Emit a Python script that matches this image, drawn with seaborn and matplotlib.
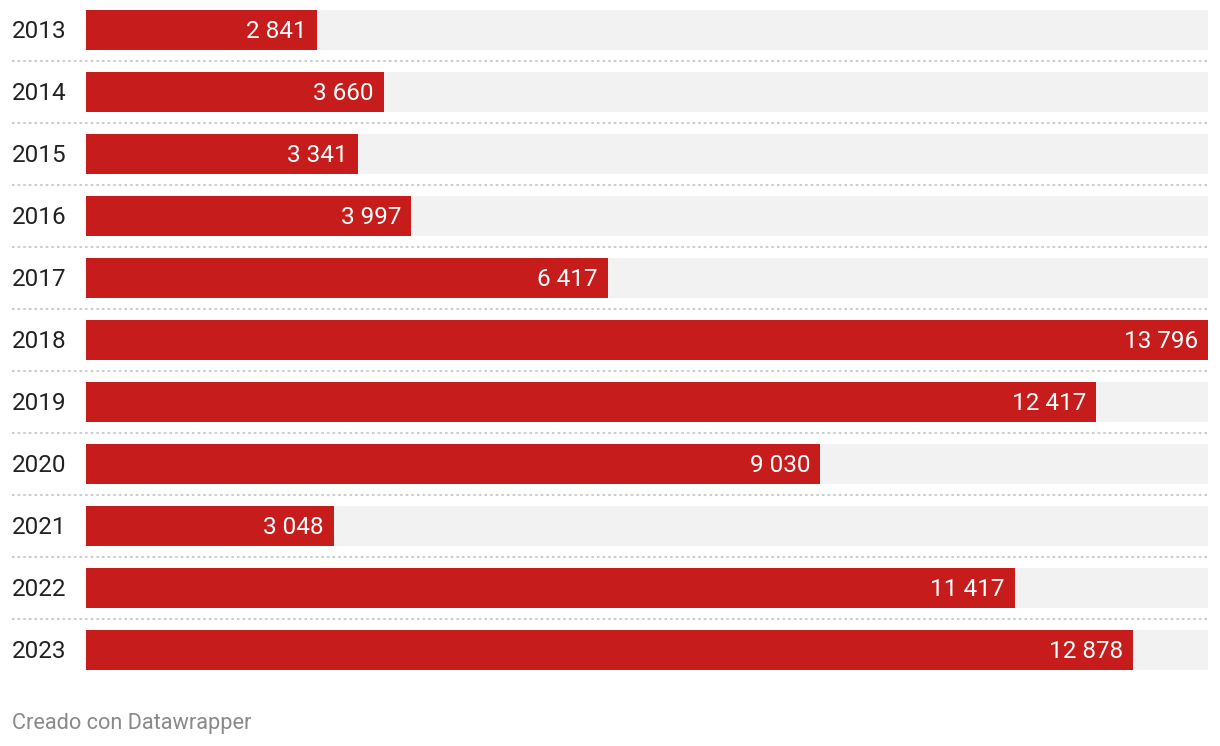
import matplotlib
matplotlib.use("Agg")
import matplotlib.pyplot as plt
import matplotlib.transforms as mtransforms
import seaborn as sns
import pandas as pd

# Data
years = ["2013", "2014", "2015", "2016", "2017", "2018", "2019", "2020", "2021", "2022", "2023"]
values = [2841, 3660, 3341, 3997, 6417, 13796, 12417, 9030, 3048, 11417, 12878]

df = pd.DataFrame({"year": years, "value": values})
max_value = max(values)
df["full"] = max_value

sns.set_theme(style="white")
plt.rcParams["font.family"] = ["Roboto", "DejaVu Sans"]

red = "#c71c1c"
bg_gray = "#f2f2f2"

fig = plt.figure(figsize=(12.2, 7.46), dpi=100)
fig.patch.set_facecolor("white")
ax = fig.add_axes([86 / 1220, 65 / 746, 1122 / 1220, 682 / 746])

# background track bars, then the value bars
sns.barplot(data=df, x="full", y="year", color=bg_gray, width=40 / 62,
            ax=ax, saturation=1, orient="h", linewidth=0)
sns.barplot(data=df, x="value", y="year", color=red, width=40 / 62,
            ax=ax, saturation=1, orient="h", linewidth=0)

ax.set_xlim(0, max_value)
ax.set_ylim(len(years) - 0.5, -0.5)
ax.set_xlabel("")
ax.set_ylabel("")
ax.set_xticks([])
ax.set_yticks([])
for s in ax.spines.values():
    s.set_visible(False)

# year labels on the left
trans = mtransforms.blended_transform_factory(fig.transFigure, ax.transData)
for i, y in enumerate(years):
    ax.text(12 / 1220, i + 0.02, y, transform=trans, ha="left", va="center",
            fontsize=17.5, color="#222222")

# value labels inside the bars
for i, v in enumerate(values):
    label = f"{v:,}".replace(",", " ")
    ax.annotate(label, xy=(v, i + 0.02), xytext=(-10, 0), textcoords="offset pixels",
                ha="right", va="center", fontsize=17.5, color="white")

# dotted separators between rows
xmin = (12 - 86) / 1122
for i in range(len(years) - 1):
    ax.axhline(i + 0.5, xmin=xmin, xmax=1, color="#cccccc", lw=1.5,
               ls=(0, (1.2, 1.5)), clip_on=False)

fig.text(12 / 1220, 1 - 724 / 746, "Creado con Datawrapper", ha="left",
         va="center", fontsize=15.7, color="#8a8a8a")

fig.savefig("out.png", dpi=100, facecolor="white")
